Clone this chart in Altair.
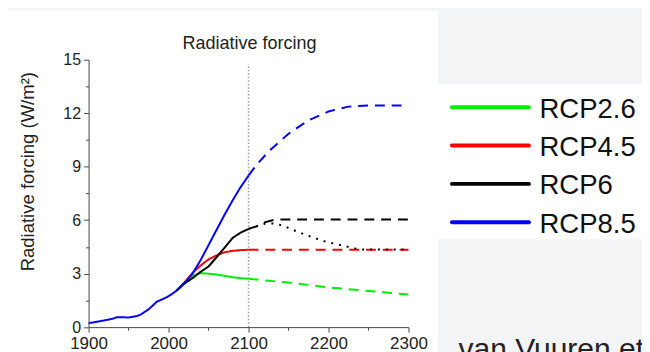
import altair as alt
import pandas as pd

# ---------------- data ----------------
series_names = ["RCP2.6", "RCP4.5", "RCP6", "RCP8.5"]
series_colors = ["#00ee00", "#ff0000", "#000000", "#0000ff"]

hist_years = [1900, 1910, 1920, 1930, 1935, 1940, 1950, 1960, 1965, 1970, 1975,
              1980, 1985, 1990, 1995, 2000, 2005, 2010]
hist_vals = [0.22, 0.30, 0.38, 0.47, 0.55, 0.56, 0.54, 0.62, 0.70, 0.85, 1.00,
             1.20, 1.42, 1.52, 1.62, 1.74, 1.88, 2.05]

proj_years = [2010, 2020, 2030, 2040, 2050, 2060, 2070, 2080, 2090, 2100]
rcp26_proj = [2.05, 2.50, 2.88, 3.03, 3.00, 2.95, 2.88, 2.80, 2.75, 2.71]
rcp45_proj = [2.05, 2.50, 3.05, 3.45, 3.80, 4.03, 4.20, 4.28, 4.32, 4.34]
rcp6_proj = [2.05, 2.45, 2.75, 3.10, 3.40, 3.92, 4.45, 5.00, 5.30, 5.51]
rcp85_proj = [2.05, 2.50, 3.00, 3.75, 4.60, 5.45, 6.30, 7.10, 7.85, 8.50]

rcp26_ext_years = [2100, 2125, 2150, 2175, 2200, 2225, 2250, 2275, 2300]
rcp26_ext = [2.71, 2.60, 2.50, 2.37, 2.23, 2.13, 2.03, 1.93, 1.83]
rcp45_ext_years = [2100, 2200, 2300]
rcp45_ext = [4.34, 4.34, 4.34]
rcp6_ext_years = [2100, 2110, 2120, 2130, 2140, 2200, 2300]
rcp6_ext = [5.51, 5.65, 5.88, 6.00, 6.04, 6.04, 6.04]
rcp6_alt_years = [2100, 2110, 2120, 2130, 2143, 2154, 2175, 2196, 2217, 2238, 2300]
rcp6_alt = [5.51, 5.65, 5.80, 5.82, 5.70, 5.48, 5.12, 4.80, 4.58, 4.36, 4.35]
rcp85_ext_years = [2100, 2110, 2125, 2150, 2175, 2200, 2225, 2250, 2300]
rcp85_ext = [8.50, 9.10, 9.85, 10.85, 11.60, 12.10, 12.37, 12.43, 12.43]

x_ticks = [1900, 2000, 2100, 2200, 2300]
x_minor = [1950, 2050, 2150, 2250]
y_ticks = [0, 3, 6, 9, 12, 15]
y_minor = [1.5, 4.5, 7.5, 10.5, 13.5]
vline_year = [2100]

# ---------------- table ----------------
rows = []
def add(series, style, key, years, vals):
    for yv, v in zip(years, vals):
        rows.append({"series": series, "style": style, "key": key, "year": yv, "value": v})

add("RCP2.6", "solid", "a26", proj_years, rcp26_proj)
add("RCP2.6", "dashed", "b26", rcp26_ext_years, rcp26_ext)
add("RCP4.5", "solid", "a45", proj_years, rcp45_proj)
add("RCP4.5", "dashed", "b45", rcp45_ext_years, rcp45_ext)
add("RCP6", "solid", "a6", proj_years, rcp6_proj)
add("RCP6", "dashed", "b6", rcp6_ext_years, rcp6_ext)
add("RCP6", "dotted", "c6", rcp6_alt_years, rcp6_alt)
add("RCP8.5", "solid", "a85", hist_years + proj_years[1:], hist_vals + rcp85_proj[1:])
add("RCP8.5", "dashed", "b85", rcp85_ext_years, rcp85_ext)
df = pd.DataFrame(rows)

FONT = "Liberation Sans"
# the page (642+16 px wide) is shown shrunk to 650 px; compensate for it
S = 650.0 / 658.0
OX, OY = 88.5, 57.5          # plot-area origin in the target picture


def px(v):
    return v / S


def rx(ref_x):
    return (ref_x - OX) / S


def ry(ref_y):
    return (ref_y - OY) / S


PW, PH = px(320), px(267.5)
PAD_L, PAD_T = OX / S - 8, OY / S - 8
PAD_R = 642 - PAD_L - PW
PAD_B = 344 - PAD_T - PH

x_scale = alt.Scale(domain=[1900, 2300], nice=False, zero=False)
y_scale = alt.Scale(domain=[0, 15], nice=False, zero=False)

one = pd.DataFrame({"a": [0]})
bg_main = alt.Chart(one).mark_rect(color="white").encode(
    x=alt.value(rx(-10)), x2=alt.value(rx(438)),
    y=alt.value(ry(8)), y2=alt.value(ry(370)))
bg_leg = alt.Chart(one).mark_rect(color="white").encode(
    x=alt.value(rx(438)), x2=alt.value(rx(670)),
    y=alt.value(ry(81)), y2=alt.value(ry(237)))

vline = alt.Chart(pd.DataFrame({"year": vline_year, "lo": [0], "hi": [14.75]})).mark_rule(
    color="#999999", strokeDash=[1.5, 2], strokeWidth=1.5).encode(
    x=alt.X("year:Q", scale=x_scale, axis=None),
    y=alt.Y("lo:Q", scale=y_scale, axis=None),
    y2="hi:Q")

axis_common = dict(grid=False, domainColor="#444444", tickColor="#444444",
                   labelColor="#222222", labelFont=FONT, zindex=1)

lines = alt.Chart(df).mark_line(strokeWidth=2, clip=False).encode(
    x=alt.X("year:Q", scale=x_scale,
            axis=alt.Axis(orient="bottom", values=x_ticks, format="d", tickSize=px(5),
                          labelFontSize=px(17), labelPadding=px(3), labelFlush=False,
                          title=None, **axis_common)),
    y=alt.Y("value:Q", scale=y_scale,
            axis=alt.Axis(orient="left", values=y_ticks, tickSize=px(5),
                          labelFontSize=px(16), labelPadding=px(3),
                          title="Radiative forcing (W/m²)",
                          titleFont=FONT, titleFontSize=px(18.5), titleFontWeight="normal",
                          titleColor="#222222", titleAngle=270, titleX=rx(33.5),
                          titleY=ry(169), titleAlign="center",
                          titleBaseline="alphabetic", **axis_common)),
    color=alt.Color("series:N", scale=alt.Scale(domain=series_names, range=series_colors),
                    legend=None),
    strokeDash=alt.StrokeDash("style:N", scale=alt.Scale(domain=["solid", "dashed", "dotted"],
                                                         range=[[1, 0], [10, 7], [2, 6]]),
                              legend=None),
    detail="key:N",
    order=alt.Order("year:Q"))

minor = alt.Chart(df).mark_point(opacity=0).encode(
    x=alt.X("year:Q", scale=x_scale,
            axis=alt.Axis(orient="bottom", values=x_minor, tickSize=px(3), labels=False,
                          domain=False, title=None, grid=False, tickColor="#444444", zindex=1)),
    y=alt.Y("value:Q", scale=y_scale,
            axis=alt.Axis(orient="left", values=y_minor, tickSize=px(3), labels=False,
                          domain=False, title=None, grid=False, tickColor="#444444", zindex=1)))

title_txt = alt.Chart(pd.DataFrame({"t": ["Radiative forcing"]})).mark_text(
    font=FONT, fontSize=px(18), color="#222222", align="center", baseline="alphabetic").encode(
    text="t:N", x=alt.value(rx(249.5)), y=alt.value(ry(46.7)))

legend_layers = []
row_y = [105, 143.3, 181.7, 220]
for name, col, yy in zip(series_names, series_colors, row_y):
    d = pd.DataFrame({"t": [name]})
    legend_layers.append(alt.Chart(d).mark_rule(color=col, strokeWidth=4, strokeCap="round").encode(
        x=alt.value(rx(452)), x2=alt.value(rx(529)), y=alt.value(ry(yy))))
    legend_layers.append(alt.Chart(d).mark_text(
        font=FONT, fontSize=px(27.5), color="#111111", align="left", baseline="alphabetic").encode(
        text="t:N", x=alt.value(rx(539.5)), y=alt.value(ry(yy + 10.5))))

credit = alt.Chart(pd.DataFrame({"t": ["van Vuuren et al."]})).mark_text(
    font=FONT, fontSize=px(30), color="#222222", align="left", baseline="alphabetic").encode(
    text="t:N", x=alt.value(rx(458.5)), y=alt.value(ry(357)))

chart = alt.layer(bg_main, bg_leg, vline, lines, minor, title_txt, *legend_layers, credit).resolve_axis(
    x="independent", y="independent"
).properties(
    width=PW, height=PH,
    padding={"left": PAD_L, "top": PAD_T, "right": PAD_R, "bottom": PAD_B},
    autosize=alt.AutoSizeParams(type="none"),
).configure(
    background="#f3f4f6", font=FONT
).configure_view(stroke=None)

chart.save("out.html", embed_options={"renderer": "svg", "actions": False})
